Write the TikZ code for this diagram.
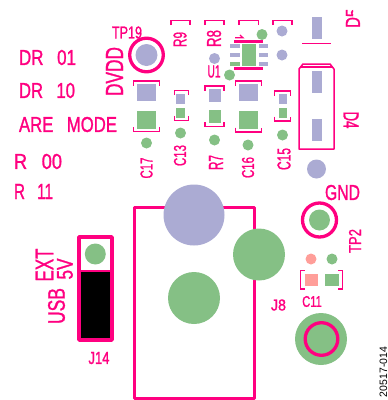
\documentclass[tikz,border=0pt]{standalone}
\usepackage{fontspec}
\usepackage{graphicx}
\setmainfont{Liberation Sans}
\newfontfamily\labfont[FakeBold=1.4]{Liberation Sans}
\definecolor{pk}{HTML}{FF0080}
\definecolor{gr}{HTML}{85C085}
\definecolor{bl}{HTML}{ABABD3}
\definecolor{sa}{HTML}{FF9E99}
% text stretched to a measured width and cap height
\newcommand{\Tx}[3]{\resizebox{#1pt}{#2pt}{\fontsize{20}{20}\selectfont\labfont #3}}
\newcommand{\Sp}{\hspace{16pt}}
\tikzset{
  tx/.style={text=pk,inner sep=0pt},
  up/.style={tx,rotate=90},
  down/.style={tx,rotate=-90},
  brk/.style={draw=pk,line width=1.6pt,line cap=butt,line join=miter},
  gp/.style={fill=gr},
  bp/.style={fill=bl},
  sp/.style={fill=sa},
  ring/.style={draw=pk,line width=3.3pt},
}
\newcommand{\brD}[3]{\draw[brk] (#1,#3+4.5) -- (#1,#3) -- (#2,#3) -- (#2,#3+4.5);}
\newcommand{\brU}[3]{\draw[brk] (#1,#3-4.5) -- (#1,#3) -- (#2,#3) -- (#2,#3-4.5);}
\newcommand{\dotg}[2]{\fill[gr] (#1,#2) circle (5.5);}
\newcommand{\dotb}[2]{\fill[bl] (#1,#2) circle (5.5);}
\begin{document}
\begin{tikzpicture}[x=1pt,y=-1pt]
\useasboundingbox (0,0) rectangle (388,400);
% left labels
\node[tx] (dr1) at (47.5,57.5) {\Tx{57}{15}{DR\Sp 01}};
\node[tx] (dr2) at (47,90.5) {\Tx{56}{15}{DR\Sp 10}};
\node[tx] (are) at (68,124.5) {\Tx{98}{15}{ARE\Sp MODE}};
\node[tx] (r0) at (38,161.5) {\Tx{48}{15}{R\Sp 00}};
\node[tx] (r1) at (33.5,191.5) {\Tx{39}{15}{R\Sp 11}};
\node[up] (dvdd) at (114.5,71.5) {\Tx{49}{17}{DVDD}};
\node[tx] (tp19) at (127,32.5) {\Tx{30}{12}{TP19}};
% TP19
\fill[bl] (146.5,55) circle (11);
\draw[ring] (146.5,55) circle (16.8);
% C17
\brD{133.5}{159.5}{81}
\fill[bp] (137,84) rectangle (156,101);
\fill[gp] (137,111) rectangle (156,129);
\brU{133.5}{159.5}{131.5}
\dotg{146.5}{143}
\node[up] (c17) at (146.5,168) {\Tx{21}{12}{C17}};
% C13
\brD{174.5}{188.5}{90.5}
\fill[bp] (176,94) rectangle (185,104);
\fill[gp] (176,108) rectangle (185,118);
\brU{174.5}{188.5}{120.5}
\dotg{180.5}{133}
\node[up] (c13) at (180,155.5) {\Tx{21}{12}{C13}};
% top brackets
\brD{171}{190}{20.5}
\node[up] (r9) at (180,39.5) {\Tx{15}{13}{R9}};
\brD{205}{224}{20.5}
\node[up] (r8) at (214,38.5) {\Tx{17}{14}{R8}};
\brD{239}{258.5}{20.5}
\brD{273}{292}{20.5}
\dotb{214.5}{58.5}
\node[tx] (u1) at (214,71.5) {\Tx{13}{12}{U1}};
% U1 chip
\fill[bp] (230,44) rectangle (240,48);
\fill[bp] (230,53) rectangle (240,57);
\fill[gp] (230,62) rectangle (240,66);
\fill[bp] (259,44) rectangle (268,48);
\fill[bp] (259,53) rectangle (268,57);
\fill[bp] (259,62) rectangle (268,66);
\fill[gp] (242,44) rectangle (256,66);
\draw[pk,line width=3pt] (234,41) -- (263,41);
\draw[pk,line width=3pt] (234,68) -- (263,68);
\draw[pk,line width=1.2pt] (235,37.8) -- (243,37.8) -- (240,35);
\dotg{262}{34.5}
\dotg{229.5}{75}
\dotb{282}{31}
\dotb{282}{55}
% R7
\brD{205}{224}{86}
\fill[bp] (209,89) rectangle (221,102);
\fill[gp] (209,110) rectangle (221,123);
\brU{205}{224}{126.5}
\dotg{214.5}{140}
\node[up] (r7) at (216,162.5) {\Tx{15}{14}{R7}};
% C16
\brD{235.5}{261.5}{81}
\fill[bp] (239,84) rectangle (258,101);
\fill[gp] (239,111) rectangle (258,129);
\brU{235.5}{261.5}{132}
\dotg{248}{145}
\node[up] (c16) at (248,167.5) {\Tx{21}{12}{C16}};
% C15
\brD{274.5}{290.5}{91}
\fill[bp] (279,94) rectangle (287,104);
\fill[gp] (279,108) rectangle (287,118);
\brU{274.5}{290.5}{121}
\dotg{282.5}{135}
\node[up] (c15) at (284,159) {\Tx{22}{13}{C15}};
% top diode
\fill[bp] (312,17) rectangle (322,39);
\draw[pk,line width=1.3pt] (302,43.5) -- (331,43.5);
\begin{scope}
  \clip (345,9) rectangle (353,16.5) (345,17.5) rectangle (361,28);
  \node[up,anchor=west] (d5) at (353,28) {\Tx{19}{14}{D5}};
\end{scope}
% D4
\fill[bp] (312,71) rectangle (322,93);
\fill[bp] (312,119) rectangle (322,141);
\draw[pk,line width=1.5pt,line join=round] (299,149) -- (299,69) -- (303,64) -- (330,64) -- (334,69) -- (334,149) -- cycle;
\draw[pk,line width=1.2pt] (301,67) -- (332,67);
\node[down] (d4) at (351,120) {\Tx{17}{15}{D4}};
\fill[bl] (316.5,169) circle (9.5);
\node[tx] (gnd) at (342.5,192.5) {\Tx{35}{15}{GND}};
% TP2
\fill[gr] (319.5,220) circle (10.5);
\draw[ring] (319.5,220) circle (17);
\node[up] (tp2) at (355,241) {\Tx{24}{12}{TP2}};
% C11
\fill[sa] (311,259) circle (5.5);
\dotg{332}{259}
\fill[sp] (305,274) rectangle (318,286);
\fill[gp] (325,274) rectangle (339,286);
\draw[brk] (305,270.5) -- (300.5,270.5) -- (300.5,289) -- (305,289);
\draw[brk] (338,270.5) -- (342.5,270.5) -- (342.5,289) -- (338,289);
\node[tx] (c11) at (312,301.5) {\Tx{19.5}{10.7}{C11}};
\node[tx] (j8) at (278.5,305) {\Tx{15}{11}{J8}};
\fill[gr] (321,339) circle (26);
\draw[ring] (321.5,339) circle (16.3);
% J8
\draw[pk,line width=3pt,line join=round] (134,207) rectangle (254,398);
\fill[bl] (194,215) circle (30.5);
\fill[gr] (259,254.5) circle (26);
\fill[gr] (194,298) circle (26);
% J14
\fill[black] (79,271) rectangle (112,340);
\draw[pk,line width=3.4pt,line join=round] (79,237) rectangle (112,340);
\draw[pk,line width=2pt] (79,271) -- (112,271);
\fill[gr] (95.3,254) circle (10.5);
\node[tx] (j14) at (99,358) {\Tx{21}{12}{J14}};
\node[up] (ext) at (44.5,265) {\Tx{33}{17.5}{EXT}};
\node[up] (fv) at (65,269) {\Tx{21}{15.5}{5V}};
\node[up] (usb) at (56.5,306) {\Tx{36}{16.7}{USB}};
\node[inner sep=0pt,rotate=90] (fig) at (383.5,372) {\resizebox{50pt}{7.5pt}{\fontsize{10}{10}\selectfont 20517-014}};
\end{tikzpicture}
\end{document}
